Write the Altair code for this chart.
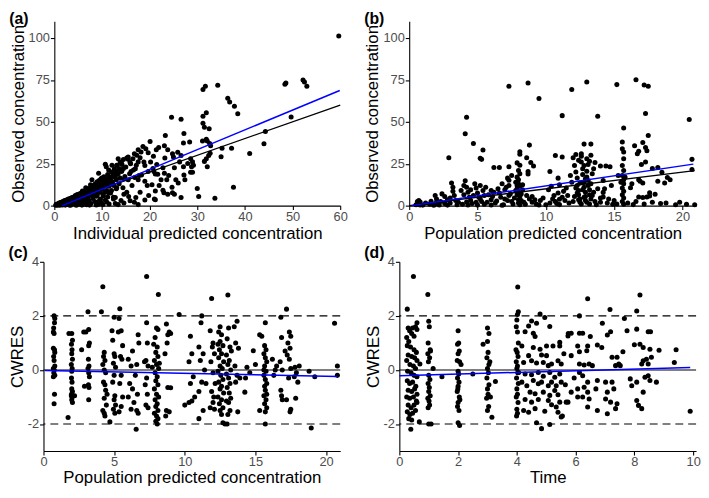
import altair as alt
import pandas as pd

FONT = "Liberation Sans"
GREY = "#4D4D4D"

# ---------------- data ----------------
# (a) individual predicted concentration vs observed concentration
a_points = [
    (0.3,0.2),(0.5,0.8),(0.6,0.3),(0.8,1.0),(0.9,0.5),(1.0,1.5),(1.1,0.2),(1.2,1.0),(1.3,1.8),(1.4,0.6),
    (1.5,1.2),(1.6,2.2),(1.7,0.4),(1.8,1.6),(1.9,2.6),(2.0,1.0),(2.1,2.0),(2.2,3.0),(2.3,0.3),(2.4,1.6),
    (2.5,2.5),(2.6,3.4),(2.7,1.2),(2.8,2.2),(2.9,3.8),(3.0,0.6),(3.1,2.8),(3.2,3.5),(3.3,1.8),(3.4,4.4),
    (3.5,2.6),(3.6,3.6),(3.7,0.9),(3.8,4.8),(3.9,2.0),(4.0,3.8),(4.1,5.2),(4.2,1.4),(4.3,4.2),(4.4,6.0),
    (4.5,3.0),(4.6,5.0),(4.7,2.2),(4.8,6.6),(4.9,4.4),(5.0,5.6),(5.1,0.8),(5.2,3.6),(5.3,7.0),(5.4,5.0),
    (5.5,6.2),(5.6,2.8),(5.7,7.6),(5.8,4.6),(5.9,6.0),(6.0,1.6),(6.1,8.0),(6.2,5.4),(6.3,7.0),(6.4,3.6),
    (6.5,9.0),(6.6,6.0),(6.7,7.8),(6.8,0.5),(6.9,8.6),(7.0,5.0),(7.1,9.8),(7.2,6.8),(7.3,3.0),(7.4,10.4),
    (7.5,7.6),(7.6,8.8),(7.7,1.2),(7.8,11.2),(7.9,6.4),(8.0,9.2),(8.1,4.2),(8.2,12.0),(8.3,8.0),(8.4,10.2),
    (8.5,2.4),(8.6,13.0),(8.7,7.2),(8.8,11.0),(8.9,5.6),(9.0,14.2),(9.1,9.0),(9.2,12.0),(9.3,0.8),(9.4,15.0),
    (9.5,8.0),(9.6,11.6),(9.7,4.0),(9.8,16.0),(9.9,10.4),(10.0,13.0),(10.2,6.6),(10.4,17.2),(10.5,11.8),
    (10.7,3.2),(10.8,14.6),(11.0,9.0),(11.2,18.6),(11.3,12.6),(11.5,1.0),(11.6,16.0),(11.8,7.6),(12.0,20.0),
    (12.2,14.0),(12.4,5.0),(12.6,22.0),(12.8,17.0),(13.0,10.0),(13.2,24.0),(13.4,19.0),(13.6,13.0),(13.8,26.0),
    (14.0,3.0),(14.2,21.0),(14.5,27.5),(14.7,16.0),(15.0,23.0),(15.2,8.0),(15.5,29.0),(15.8,19.0),(16.0,25.0),
    (16.3,12.0),(16.5,28.0),(17.0,22.0),(17.3,30.0),(17.8,18.0),(18.2,32.0),(18.8,26.0),(19.2,34.0),(19.5,12.0),
    (1.0,0.8),(1.5,1.8),(2.0,2.4),(2.5,1.8),(3.0,3.2),(3.5,4.0),(4.0,4.6),(4.5,5.4),(5.0,4.2),(5.5,4.0),
    (6.0,6.8),(6.5,7.0),(7.0,7.2),(7.5,9.0),(8.0,10.6),(8.5,9.6),(9.0,10.6),(9.5,13.0),(10.0,10.0),(10.5,14.0),
    (11.0,15.0),(11.5,13.5),(12.0,16.8),(12.5,12.0),(13.0,15.5),(3.4,0.2),(5.8,0.3),(8.8,0.4),(10.2,0.6),
    (2.2,0.8),(4.4,1.0),(6.6,2.0),(7.0,2.6),(9.4,2.8),(3.8,1.6),(5.0,2.4),(8.0,5.6),(6.2,3.4),(9.0,6.4),
    (10.6,8.0),(11.2,5.2),(12.0,9.0),(14.4,10.6),
    (0.4,0.6),(0.7,0.9),(1.1,1.3),(1.4,1.5),(1.8,2.1),(2.1,2.6),(2.4,3.2),(2.7,2.9),(3.0,3.9),(3.3,3.1),
    (3.6,4.5),(3.9,4.2),(4.2,5.0),(4.5,4.3),(4.8,5.8),(5.1,5.2),(5.4,6.6),(5.7,5.5),(6.0,7.4),(6.3,6.1),
    (6.6,8.3),(6.9,7.0),(7.2,8.9),(7.5,8.1),(7.8,9.7),(8.1,8.7),(8.4,11.4),(8.7,9.9),(9.0,12.4),(9.3,11.0),
    (9.6,13.6),(9.9,12.2),(10.3,15.0),(10.8,12.8),(11.4,17.0),(11.9,14.8),(12.4,18.5),(13.0,20.5),(13.6,22.0),
    (14.2,24.5),(3.2,0.4),(4.6,0.2),(6.2,0.9),(7.4,0.3),(9.8,1.8),(11.0,2.2),(12.8,1.2),(14.6,1.5),(16.8,2.0),
    (15.6,5.5),(18.0,8.0),(19.8,6.0),(20.5,12.5),(22.0,12.0),(24.0,18.0),(20.2,26.0),(21.5,24.5),(19.0,24.0),
    (18.0,28.5),(16.8,31.0),(20.8,29.5),
    (20.1,38.2),(18.6,35.3),(17.6,33.4),(19.7,31.5),(21.4,33.4),(21.9,34.7),(23.1,35.7),(23.3,41.9),(24.8,30.9),
    (25.0,29.0),(25.9,31.9),(26.6,29.9),(27.1,37.3),(27.2,43.1),(28.4,38.0),(26.3,26.1),(27.1,23.2),(28.0,25.1),
    (28.6,28.0),(28.8,23.2),(28.6,19.9),(25.2,22.6),(23.2,28.4),(23.8,33.4),(22.8,22.6),(20.7,22.2),(20.9,20.3),
    (21.2,18.9),(21.7,18.7),(23.1,19.3),(19.7,20.3),(22.4,15.4),(23.6,15.4),(25.5,15.4),(27.2,18.3),(27.4,15.4),
    (26.0,13.5),(22.8,9.1),(23.0,7.7),(24.7,11.0),(24.8,7.7),(25.2,6.8),(26.6,4.8),(23.8,6.8),(21.2,8.7),
    (21.0,3.9),(21.2,3.5),(19.0,3.3),(17.1,4.8),(15.9,2.9),(17.6,0.6),(13.4,0.6),(12.8,4.8),(12.4,3.9),
    (14.6,6.8),(13.1,10.6),(15.5,15.4),(16.9,16.8),(17.6,15.4),(19.0,14.5),(18.3,18.3),(16.6,21.2),(17.2,24.1),
    (17.6,26.1),(15.9,25.7),(15.2,28.4),(15.5,27.6),(13.4,28.0),(14.1,25.1),(13.1,24.1),(12.1,24.1),(10.7,24.7),
    (10.9,23.2),(11.4,21.2),(9.3,19.3),(10.0,16.4),(11.0,15.4),(12.1,17.4),(12.8,18.3),(14.1,20.3),(13.8,16.4),
    (14.8,17.4),(14.5,22.2),(16.1,20.3),(8.6,10.6),(10.0,9.7),(11.4,7.7),(10.3,5.8),(9.7,12.5),(12.4,12.5),
    (11.5,11.6),(7.9,15.4),(7.6,12.5),(6.6,10.6),(5.9,8.7),
    (59.7,101.2),(48.4,72.4),(48.6,73.2),(52.2,74.9),(52.5,73.7),(53.0,71.2),(31.2,69.3),(31.7,71.2),(34.3,71.8),
    (36.4,64.1),(36.8,61.8),(37.8,59.3),(38.5,54.8),(31.2,53.3),(31.9,55.4),(24.6,52.7),(26.6,51.5),(31.2,49.2),
    (31.5,46.7),(32.5,45.9),(49.7,52.9),(44.3,44.2),(44.0,36.9),(41.0,31.1),(37.6,11.0),(33.7,4.4),(30.0,10.2),
    (30.3,5.4),(35.2,34.2),(37.2,34.2),(35.0,29.2),(31.1,38.6),(32.1,38.6),(31.9,39.6),(32.6,37.1),(32.8,35.7),
    (31.5,26.4),(31.9,28.0),(32.4,29.9),(32.7,31.3),(32.1,23.2),(29.0,26.1),(29.2,24.1),(29.0,19.9),
]

# (b) population predicted concentration vs observed concentration
b_points = [
    (7.3,71.2),(8.7,73.2),(9.5,63.9),(11.2,53.7),(11.9,69.3),(13.0,73.7),(13.8,53.3),(15.2,72.2),(16.6,75.1),
    (17.2,72.0),(17.5,71.2),(17.3,55.0),(17.5,41.9),(15.7,46.3),(20.5,51.4),(20.7,27.6),(20.7,21.6),(4.2,52.7),
    (4.1,42.9),(4.7,37.1),(5.4,33.2),(5.3,27.6),(5.2,28.2),(2.9,28.6),(8.8,36.1),(8.6,28.6),(8.1,32.2),(8.1,30.7),
    (7.9,25.5),(8.1,24.1),(6.2,22.8),(6.6,22.8),(7.3,23.2),(7.2,16.4),(7.3,15.1),(8.9,25.7),(9.1,23.6),(8.7,20.3),
    (8.7,18.9),(10.7,29.9),(11.2,29.0),(10.3,20.3),(10.9,16.4),(12.8,36.7),(13.3,36.7),(13.6,25.7),(14.0,23.7),
    (14.4,23.6),(14.7,23.2),(14.2,7.9),(14.2,5.2),
    (16.3,13.1),(16.2,10.6),(16.5,35.7),(16.7,30.9),(16.8,32.4),(17.1,37.6),(17.3,34.7),(17.4,32.8),(17.3,26.0),
    (17.0,24.5),(16.8,15.4),(16.9,14.5),(17.1,13.5),(16.8,5.2),(17.1,4.8),(17.4,5.2),(17.6,7.7),(17.6,5.8),
    (17.8,22.2),(18.2,22.8),(18.2,14.5),(18.5,19.9),(18.9,16.8),(18.7,13.5),(18.8,1.5),(19.1,15.4),(18.0,6.8),
    (0.6,2.5),(0.7,3.0),(0.8,2.2),(0.7,1.0),(0.5,0.5),(1.0,0.3),(1.5,0.8),(1.9,6.0),(2.0,4.0),(2.0,2.0),(2.1,1.0),
    (2.2,0.4),(2.4,7.0),(2.6,5.5),(2.8,3.5),(3.0,1.5),(3.1,13.5),(3.2,11.0),(3.2,8.5),(3.3,6.0),(3.4,3.0),(3.5,0.5),
    (3.8,9.0),(4.0,12.0),(4.1,14.8),(4.2,11.0),(4.3,8.0),(4.4,5.0),(4.5,3.0),(4.6,1.2),(4.3,0.4),(4.8,13.0),
    (4.9,10.5),(5.0,7.5),(5.1,5.0),(5.2,12.0),(5.3,2.5),(5.4,9.0),(5.5,0.8),(5.6,11.0),(5.8,6.5),(6.0,3.5),
    (6.2,8.0),(6.3,1.5),(6.5,10.0),(6.7,5.0),(6.8,13.0),(6.9,0.5),(7.0,9.5),(7.2,3.0),(7.3,12.0),(7.4,7.0),
    (7.5,18.0),(7.6,1.0),(7.8,14.0),(7.9,10.0),(8.0,13.0),(8.1,11.5),(8.0,8.0),(8.1,5.5),(8.2,3.0),(8.0,1.5),
    (8.3,12.5),(7.9,6.5),(8.5,0.8),(8.8,4.0),(9.0,2.0),(9.3,1.0),(9.6,3.0),(10.0,0.5),(10.2,9.5),(10.4,11.5),
    (10.5,4.0),(10.7,2.5),(10.9,7.5),(11.0,12.5),(11.2,5.0),(11.4,3.0),(11.5,10.5),(11.7,1.5),(11.8,18.0),
    (11.9,14.0),(12.0,28.5),(12.1,24.0),(12.2,30.5),(12.2,20.0),(12.3,16.5),(12.3,12.0),(12.4,9.0),(12.4,6.5),
    (12.5,4.0),(12.5,2.0),(12.6,31.0),(12.6,26.0),(12.7,22.0),(12.7,18.5),(12.8,14.0),(12.8,11.0),(12.9,8.0),
    (12.9,5.5),(12.9,3.0),(13.0,28.0),(13.0,20.5),(13.1,24.5),(13.1,15.0),(13.2,1.0),(13.2,9.5),(13.3,30.0),
    (13.3,13.0),(13.4,6.0),(13.5,22.0),(13.6,2.5),(13.8,10.0),(14.0,4.5),(14.2,15.0),(14.5,1.5),(14.8,12.0),
    (15.0,3.0),(15.3,18.0),(15.6,38.0),(15.6,34.0),(15.7,32.0),(15.7,28.0),(15.6,24.0),(15.7,21.0),(15.6,18.0),
    (15.7,15.5),(15.7,13.0),(15.6,10.5),(15.7,8.5),(15.6,6.5),(15.7,4.5),(15.6,2.5),(15.7,0.8),(15.8,17.0),
    (8.0,21.0),(8.1,19.0),(7.9,17.0),(8.0,15.5),(12.4,27.0),(12.6,29.5),(13.2,26.5),(12.8,24.0),(13.0,17.0),
    (20.9,0.5),(19.8,2.0),(16.4,0.6),(14.9,0.8),(11.0,0.6),(6.0,0.4),(2.8,0.3),(1.6,2.6),(9.8,4.5),(10.8,1.2),
    (0.8,0.4),(1.2,1.5),(1.8,0.2),(2.3,2.5),(2.6,1.2),(3.0,4.5),(3.6,2.0),(3.9,0.8),(4.0,6.5),(4.2,2.2),
    (4.5,9.5),(4.7,6.0),(4.9,2.0),(5.0,0.3),(5.2,4.0),(5.5,6.0),(5.7,2.0),(6.0,9.0),(6.1,5.5),(6.4,2.8),
    (6.6,7.5),(6.8,0.2),(7.0,4.0),(7.1,11.0),(7.3,6.0),(7.5,2.5),(7.7,4.5),(7.8,9.0),(7.9,12.0),(8.0,3.5),
    (8.1,0.5),(8.2,7.0),(8.3,9.5),(8.4,2.0),(8.6,6.0),(9.0,5.5),(9.2,3.5),(9.5,0.4),(10.3,1.5),(10.6,6.0),
    (11.0,3.8),(11.3,8.5),(11.6,6.0),(12.0,2.5),(12.1,5.5),(12.2,10.5),(12.3,7.5),(12.4,3.5),(12.5,13.5),
    (12.6,1.0),(12.7,9.5),(12.8,5.0),(12.9,16.0),(13.0,2.0),(13.1,12.0),(13.2,6.5),(13.3,4.0),(13.4,19.0),
    (13.5,8.0),(13.7,0.5),(14.0,2.0),(14.3,10.0),(14.6,4.0),(15.2,1.0),(15.5,14.0),(16.0,1.5),(16.6,2.5),
    (17.2,1.0),(17.8,2.0),(18.4,1.2),(19.5,0.5),(20.3,0.8),
]

# (c) population predicted concentration vs CWRES
c_points = [
    (0.75,2.0),(0.8,1.9),(0.78,1.75),(0.72,1.55),(0.7,1.4),(0.75,1.35),(0.7,0.8),(0.78,0.75),(0.8,0.65),(0.72,0.5),
    (0.75,0.35),(0.8,0.15),(0.7,0.05),(0.76,0.0),(0.73,-0.1),(0.8,-0.2),(0.7,-0.25),(0.78,-0.9),(0.75,-1.25),
    (2.0,1.35),(2.05,1.1),(1.98,0.95),(2.02,0.75),(2.0,0.6),(2.05,0.4),(1.97,0.2),(2.03,0.05),(2.0,-0.05),
    (1.98,-0.3),(2.02,-0.45),(2.0,-0.7),(2.05,-0.8),(1.97,-0.95),(2.03,-1.0),(2.0,-1.1),(2.05,-1.2),(1.98,-0.9),
    (1.74,-1.76),(1.8,1.35),(2.2,-0.95),
    (3.15,2.15),(3.2,1.5),(3.0,1.4),(3.25,1.0),(3.2,0.9),(3.18,0.4),(3.22,0.15),(3.15,0.05),(3.2,-0.1),(3.25,-0.25),
    (3.18,-0.55),(3.22,-0.65),(3.2,-1.1),(2.7,0.75),(2.85,1.4),(2.9,-0.6),
    (4.2,3.08),(4.1,2.15),(4.3,0.65),(4.25,0.5),(4.35,0.35),(4.2,0.2),(4.3,0.0),(4.4,-0.1),(4.25,-0.45),(4.35,-0.55),
    (4.4,-0.75),(4.3,-1.05),(4.2,-1.5),(4.3,-1.6),(4.35,-1.7),(4.45,-1.3),(4.5,-0.9),
    (5.0,1.95),(4.85,1.45),(4.9,1.1),(5.0,0.6),(5.05,0.5),(4.95,0.25),(5.1,0.1),(5.0,-0.2),(4.9,-0.45),(5.05,-0.95),
    (5.0,-1.1),(5.1,-1.3),(4.95,-1.45),(5.05,-1.6),(4.7,-1.92),
    (5.4,2.26),(5.35,1.9),(5.5,1.45),(5.3,1.4),(5.6,0.9),(5.45,0.5),(5.55,0.4),(5.5,-0.2),(5.4,-0.5),(5.6,-1.0),
    (5.5,-1.35),(5.35,-1.55),
    (6.0,0.4),(6.2,0.15),(6.1,-0.5),(6.3,-0.7),(6.0,-1.0),(6.4,-1.2),(6.2,-1.45),(6.5,-0.2),(6.3,0.7),(6.7,1.3),
    (6.75,1.0),(6.56,-2.19),(6.6,-1.5),(6.7,-1.6),(6.65,-0.9),(6.6,0.2),
    (7.3,3.46),(7.3,1.75),(7.35,1.0),(7.25,0.35),(7.4,0.15),(7.3,-0.3),(7.2,-0.55),(7.35,-0.9),(7.25,-1.3),
    (7.4,-1.4),(7.15,0.3),
    (8.13,2.79),(8.0,1.55),(8.1,1.5),(7.9,1.2),(8.05,0.85),(7.95,0.65),(8.1,0.5),(7.85,0.35),(8.0,0.2),(8.15,0.05),
    (7.9,-0.1),(8.05,-0.25),(7.95,-0.4),(8.1,-0.55),(7.85,-0.7),(8.0,-0.9),(8.15,-1.0),(7.9,-1.1),(8.05,-1.25),
    (7.95,-1.35),(8.1,-1.5),(7.85,-1.6),(8.0,-1.7),(8.1,-1.8),(7.95,-1.9),(8.05,-2.0),(7.8,0.95),(8.2,0.25),(7.7,0.1),
    (8.7,1.7),(8.9,1.4),(8.8,1.3),(8.75,1.0),(8.6,0.6),(8.8,-0.65),(8.7,-1.5),(8.9,-1.55),(8.65,-1.7),(9.0,1.35),
    (9.6,2.05),(9.0,-0.66),
    (10.0,-1.3),(10.4,1.25),(10.5,0.6),(10.3,0.3),(10.6,-0.25),(10.4,-0.5),(10.7,-1.0),(10.5,-1.15),(10.3,-1.2),
    (11.2,2.0),(11.15,1.75),(11.0,0.85),(11.3,0.6),(11.1,0.35),(11.4,0.0),(11.2,-0.45),(11.0,-0.8),(11.3,-1.5),
    (11.0,-1.8),(11.5,-0.5),
    (11.9,2.64),(11.8,1.45),(12.0,1.0),(11.95,0.85),(12.1,0.6),(11.85,0.3),(12.0,-0.1),(12.15,-0.5),(11.9,-0.8),
    (12.05,-1.0),(11.8,-1.4),(12.1,-1.45),(12.0,-1.2),
    (12.4,1.4),(12.6,1.3),(12.5,1.05),(12.35,0.95),(12.7,0.9),(12.45,0.75),(12.6,0.6),(12.4,0.45),(12.75,0.3),
    (12.5,0.15),(12.65,0.05),(12.35,-0.05),(12.55,-0.2),(12.7,-0.35),(12.4,-0.45),(12.6,-0.6),(12.5,-0.7),
    (12.75,-0.85),(12.35,-1.0),(12.6,-1.1),(12.45,-1.25),(12.7,-1.4),(12.5,-1.5),(12.6,-1.65),(12.7,-1.95),
    (12.5,1.6),(12.85,-2.0),
    (13.05,2.77),(13.1,1.55),(13.0,1.15),(13.2,0.85),(12.95,0.55),(13.15,0.35),(13.05,0.2),(13.25,0.0),
    (12.95,-0.15),(13.1,-0.3),(13.2,-0.5),(13.0,-0.65),(13.15,-0.85),(13.25,-1.05),(12.95,-1.15),(13.1,-1.2),
    (13.2,-1.5),(13.05,-1.65),(13.0,-2.0),(13.3,0.7),
    (13.7,1.8),(13.5,1.6),(13.6,1.0),(13.8,0.8),(13.55,0.15),(13.7,-0.2),(13.9,-0.3),(13.6,-0.45),(13.75,-1.55),
    (14.4,0.1),(14.6,-0.1),(14.3,-0.3),(15.0,0.2),(14.85,0.71),(14.25,-0.82),
    (15.3,1.3),(15.45,1.25),(15.3,-1.5),
    (15.7,1.75),(15.65,0.9),(15.75,0.75),(15.6,0.6),(15.7,0.45),(15.8,0.3),(15.65,0.15),(15.75,-0.05),(15.6,-0.2),
    (15.7,-0.35),(15.8,-0.5),(15.65,-0.6),(15.7,-0.75),(15.6,-0.95),(15.75,-1.1),(15.65,-1.25),(15.8,-1.4),
    (15.7,-1.55),(15.7,-2.0),(15.8,-0.9),(15.6,0.0),
    (16.2,0.4),(16.4,0.0),(16.5,0.15),(16.3,-0.2),
    (16.8,1.95),(16.85,1.2),(16.75,0.3),(16.9,0.0),(16.8,-0.75),(16.85,-0.95),(16.9,-1.1),
    (17.2,2.25),(17.4,1.4),(17.5,1.25),(17.3,1.0),(17.45,0.8),(17.25,0.55),(17.4,0.4),(17.5,0.05),(17.35,-0.3),
    (17.2,-1.1),(17.5,-1.45),(17.45,-1.55),(17.1,0.7),
    (17.8,0.1),(17.9,-0.1),(17.75,-0.25),(17.85,-1.05),(18.0,-0.45),(18.1,0.15),
    (18.8,-0.05),(18.95,-2.15),(19.2,-0.25),
    (20.6,1.73),(20.8,0.15),(20.8,-0.2),
]

# (d) time vs CWRES
d_points = [
    (0.27,2.25),(0.48,3.46),(0.3,1.55),(0.35,1.45),(0.45,1.55),(0.25,1.2),(0.32,1.05),(0.42,1.35),(0.5,1.25),
    (0.55,1.6),(0.6,1.5),(0.6,1.75),(0.27,0.9),(0.38,0.85),(0.5,0.75),(0.58,0.65),(0.3,0.55),(0.42,0.5),
    (0.52,0.45),(0.6,0.35),(0.25,0.35),(0.36,0.2),(0.48,0.15),(0.55,0.05),(0.28,-0.05),(0.4,-0.1),(0.5,-0.2),
    (0.6,-0.25),(0.27,-0.4),(0.35,-0.5),(0.45,-0.45),(0.56,-0.6),(0.3,-0.75),(0.42,-0.8),(0.52,-0.7),(0.6,-0.9),
    (0.25,-1.0),(0.35,-1.05),(0.48,-1.0),(0.58,-1.15),(0.3,-1.3),(0.4,-1.4),(0.5,-1.3),(0.6,-1.2),(0.27,-1.55),
    (0.36,-1.65),(0.45,-1.6),(0.55,-1.5),(0.32,-1.8),(0.42,-1.85),(0.39,-2.19),(0.7,0.22),(0.68,-1.92),
    (0.97,2.79),(1.0,1.8),(1.02,1.6),(0.98,1.0),(1.05,0.75),(0.97,0.6),(1.03,0.45),(0.99,0.3),(1.15,0.05),
    (1.0,-0.2),(1.04,-0.35),(0.98,-0.5),(1.02,-0.65),(1.0,-0.8),(1.05,-0.95),(0.97,-1.05),(1.01,-1.15),
    (1.03,-1.3),(0.98,-1.4),(1.0,-2.0),(1.08,-2.0),(1.06,0.7),(1.45,-0.25),
    (2.0,1.45),(2.02,1.0),(1.98,0.95),(2.04,0.7),(2.0,0.6),(1.97,0.35),(2.05,0.3),(2.1,0.2),(2.0,-0.05),
    (1.98,-0.3),(2.03,-0.45),(2.0,-0.6),(1.97,-0.8),(2.04,-1.0),(2.0,-1.2),(1.98,-1.35),(2.03,-1.5),(2.0,-1.95),
    (2.05,-2.05),(2.02,-0.15),(2.06,-1.1),(1.99,-0.7),(2.5,-0.15),
    (3.0,1.55),(3.05,1.35),(2.85,0.95),(3.0,1.05),(3.02,0.65),(2.98,0.45),(3.05,0.2),(3.0,0.05),(3.03,-0.1),
    (2.98,-0.3),(3.05,-0.55),(3.0,-0.7),(3.02,-0.9),(2.97,-1.05),(3.04,-1.35),(3.0,-1.5),(3.15,-1.75),
    (3.27,-0.43),(3.1,-1.0),(3.08,0.3),
    (4.03,3.07),(4.05,2.15),(4.02,2.05),(4.0,1.85),(3.98,1.6),(4.02,1.4),(4.05,1.0),(3.97,0.75),(4.01,0.65),
    (4.04,0.5),(3.98,0.3),(4.02,0.15),(4.0,0.05),(4.03,-0.1),(3.99,-0.3),(4.05,-0.5),(4.0,-0.7),(4.02,-0.9),
    (3.98,-1.0),(4.04,-1.2),(4.0,-1.45),(4.02,-1.6),(3.99,-1.7),
    (4.79,2.07),(4.95,1.94),(6.13,2.0),(6.41,2.63),(7.17,2.24),(8.19,2.77),(7.66,1.9),(8.08,2.18),(6.91,1.73),
    (4.5,1.81),(4.67,1.73),(4.4,1.63),(4.28,1.41),(4.56,1.36),(4.62,1.24),(5.12,1.61),
    (5.85,1.36),(6.13,1.36),(6.24,1.36),(6.5,1.24),(5.74,1.26),
    (4.17,0.89),(4.56,0.83),(4.79,0.77),(5.01,0.89),(5.23,0.89),(5.46,1.02),(5.46,0.89),
    (6.07,0.89),(6.13,0.67),(6.41,0.89),(6.38,0.71),(6.74,0.92),(6.89,0.83),
    (7.19,1.41),(7.08,1.29),(7.75,1.45),(8.0,0.93),(8.08,1.51),
    (7.41,0.47),(7.24,0.47),(7.61,0.67),(7.36,0.16),(7.47,0.22),(7.52,0.16),(8.3,0.34),(8.25,0.22),
    (4.4,0.53),(4.84,0.55),(5.01,0.53),(5.18,0.22),(5.4,0.34),(5.51,0.22),(5.85,0.53),
    (4.23,0.28),(4.5,0.34),(4.67,0.26),(4.9,0.28),(5.07,0.16),
    (6.13,0.22),(6.29,0.18),(6.46,0.22),(6.57,0.16),
    (4.06,-0.09),(4.28,-0.15),(4.5,-0.18),(4.73,-0.09),(4.9,-0.23),(5.12,-0.09),(5.29,-0.27),(5.46,-0.15),
    (4.17,-0.45),(4.34,-0.58),(4.56,-0.39),(4.73,-0.51),(4.84,-0.45),(5.07,-0.58),(5.18,-0.45),(5.34,-0.58),
    (5.51,-0.45),(4.45,-0.82),(4.62,-0.88),(4.9,-0.82),(5.12,-0.94),(5.29,-0.76),(5.4,-0.92),
    (4.28,-1.09),(4.5,-1.19),(4.73,-1.09),(5.07,-1.13),(5.18,-1.29),(5.46,-1.19),(5.68,-1.19),
    (4.23,-1.5),(4.4,-1.56),(4.62,-1.43),(4.95,-1.53),(5.34,-1.37),(5.4,-1.56),
    (4.67,-1.95),(4.84,-2.17),(5.12,-2.02),(5.51,-1.74),
    (6.13,-0.09),(6.24,-0.21),(6.41,-0.45),(6.29,-0.64),(6.07,-0.7),(6.41,-0.82),(6.24,-1.0),(6.07,-1.0),
    (6.46,-1.07),(6.69,-0.7),(6.74,-0.39),
    (7.02,-0.45),(7.24,-0.45),(7.08,-0.82),(7.3,-0.7),(7.02,-1.07),(7.19,-1.19),(7.36,-1.43),(7.08,-1.62),
    (7.41,-1.25),(7.86,-0.33),(7.91,-0.58),(8.08,-0.45),(8.08,-1.13),(8.14,-1.31),(8.25,-1.43),(8.3,-0.82),
    (6.74,-1.5),(6.41,-1.37),(5.85,-0.82),(5.74,-1.19),
    (5.75,1.35),(5.6,0.6),(5.65,-0.55),(5.95,-0.3),(5.55,-1.7),
    (8.47,1.41),(8.55,1.41),(8.19,0.95),(8.3,0.83),(8.41,0.4),(8.47,0.22),(8.53,0.77),(8.58,0.47),(8.47,-0.21),
    (8.36,-0.27),(8.53,-0.39),(8.75,-0.45),(8.84,0.73),(9.42,0.75),(9.36,0.28),(9.9,-1.53),
]

# reference / fitted lines: (slope, intercept, x start, x end)
a_identity = (1.0, 0.0, 0.0, 60.0)
a_fit = (1.18, -2.0, 1.7, 59.9)
b_identity = (1.0, 0.0, 0.0, 20.9)
b_fit = (1.2, -0.2, 0.17, 20.8)
c_fit = (-0.0105, -0.02, 0.1, 20.8)
d_fit = (0.03, -0.21, 0.0, 9.9)
cwres_zero = [0.0]
cwres_limits = [-2.0, 2.0]

# axis ticks
conc_ticks = [0, 25, 50, 75, 100]
ipred_ticks = [0, 10, 20, 30, 40, 50, 60]
pred_ticks = [0, 5, 10, 15, 20]
cwres_ticks = [-2, 0, 2, 4]
time_ticks = [0, 2, 4, 6, 8, 10]


def line_df(params):
    s, i, x0, x1 = params
    return pd.DataFrame({"x": [x0, x1], "y": [s * x0 + i, s * x1 + i]})


AX = dict(grid=False, labelOverlap=False, labelExpr="'' + datum.value",
          labelFont=FONT, labelFontSize=13, labelColor=GREY, labelPadding=1,
          titleFont=FONT, titleFontSize=17, titleFontWeight="normal", titleColor="black",
          domainColor="black", domainWidth=1.1, tickColor="black", tickWidth=1.1, tickSize=4)


def panel(points, xdom, ydom, xticks, yticks, xtitle, ytitle, label, w, h, toff, xtp, inset,
          black_lines=(), blue_lines=(), hrules_solid=(), hrules_dashed=()):
    # `inset` shifts the plotting frame right inside the cell, so that panels whose
    # y-labels are wider start further right, as in the figure.
    df = pd.DataFrame(points, columns=["x", "y"])
    if inset:
        xs = alt.Scale(domain=xdom, nice=False, zero=False, range=[inset, w])
    else:
        xs = alt.Scale(domain=xdom, nice=False, zero=False)
    ys = alt.Scale(domain=ydom, nice=False, zero=False)
    xax = alt.Axis(values=xticks, title=xtitle, labelFlush=False, titlePadding=xtp, **AX)
    if inset:
        yax = alt.Axis(values=yticks, title=ytitle, titlePadding=1, offset=-inset, **AX)
    else:
        yax = alt.Axis(values=yticks, title=ytitle, titlePadding=1, **AX)
    X = alt.X("x:Q", scale=xs, axis=xax)
    Y = alt.Y("y:Q", scale=ys, axis=yax)
    layers = [alt.Chart(df).mark_circle(size=26, color="black", opacity=1).encode(x=X, y=Y)]
    if hrules_solid:
        layers.append(alt.Chart(pd.DataFrame({"y": list(hrules_solid)}))
                      .mark_rule(color="black", strokeWidth=1.1).encode(y=Y))
    if hrules_dashed:
        layers.append(alt.Chart(pd.DataFrame({"y": list(hrules_dashed)}))
                      .mark_rule(color="black", strokeWidth=1.1, strokeDash=[8, 5]).encode(y=Y))
    for p in black_lines:
        layers.append(alt.Chart(line_df(p)).mark_line(color="black", strokeWidth=1.3).encode(x=X, y=Y))
    for p in blue_lines:
        layers.append(alt.Chart(line_df(p)).mark_line(color="#0000FF", strokeWidth=1.5).encode(x=X, y=Y))
    return alt.layer(*layers).properties(
        width=w, height=h,
        title=alt.TitleParams(text=label, anchor="start", frame="bounds", fontSize=16,
                              fontWeight="bold", font=FONT, color="black", offset=toff),
    )


pa = panel(a_points, [0, 60], [0, 110], ipred_ticks, conc_ticks,
           "Individual predicted concentration", "Observed concentration", "(a)", 301, 187, -6, 2, 11,
           black_lines=[a_identity], blue_lines=[a_fit])
pb = panel(b_points, [0, 21], [0, 110], pred_ticks, conc_ticks,
           "Population predicted concentration", "Observed concentration", "(b)", 301, 187, -6, 2, 10,
           black_lines=[b_identity], blue_lines=[b_fit])
pc = panel(c_points, [0, 21], [-3, 4], pred_ticks, cwres_ticks,
           "Population predicted concentration", "CWRES", "(c)", 301, 192, -5, 1, 0,
           blue_lines=[c_fit], hrules_solid=cwres_zero, hrules_dashed=cwres_limits)
pd_ = panel(d_points, [0, 10.1], [-3, 4], time_ticks, cwres_ticks,
            "Time", "CWRES", "(d)", 301, 192, -5, 1, 0,
            blue_lines=[d_fit], hrules_solid=cwres_zero, hrules_dashed=cwres_limits)

chart = alt.concat(
    pa, pb, pc, pd_, columns=2,
    spacing=alt.RowColnumber(row=4, column=16),
).properties(padding=0).configure(font=FONT).configure_view(strokeWidth=0)

chart.save("out.html", embed_options={"renderer": "svg", "actions": False})
